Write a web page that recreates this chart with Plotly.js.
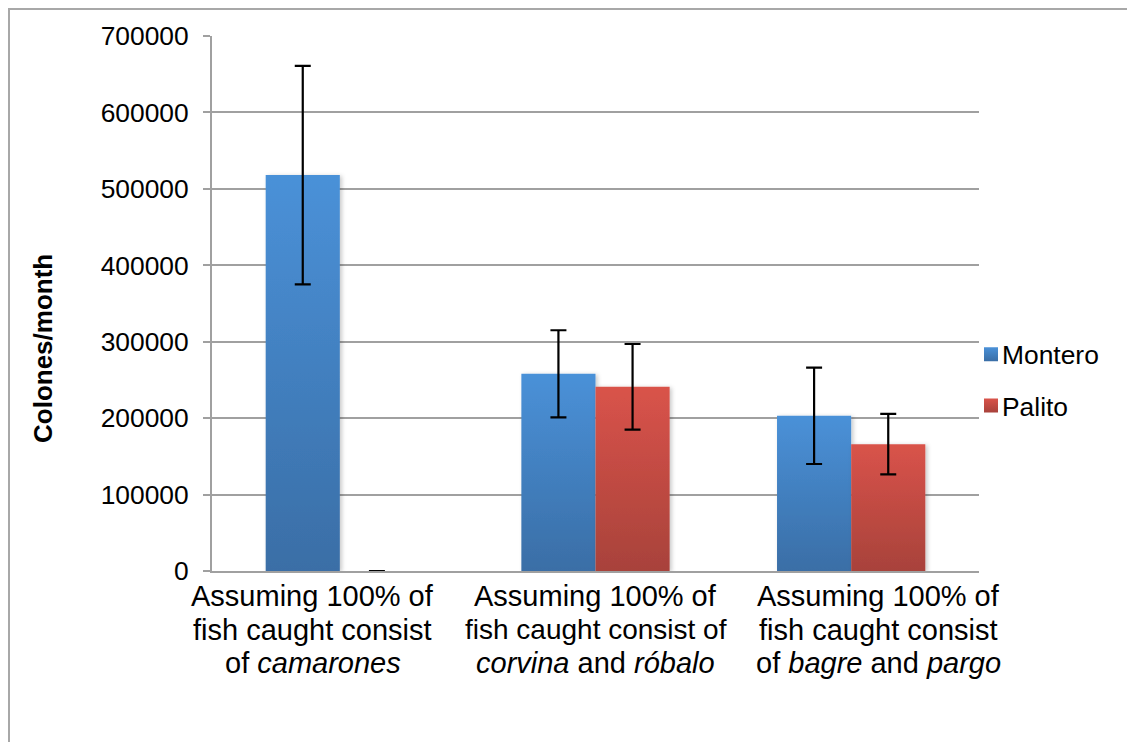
<!DOCTYPE html>
<html>
<head>
<meta charset="utf-8">
<script src="https://cdn.plot.ly/plotly-3.0.1.min.js"></script>
<style>
  html, body { margin: 0; padding: 0; background: #fff; }
  #wrap { position: relative; width: 1127px; height: 742px; overflow: hidden; }
  #chart { width: 1127px; height: 742px; }
  #frame { position: absolute; left: 8px; top: 8px; width: 1200px; height: 800px;
           border-left: 2px solid #a8a8a8; border-top: 2px solid #a8a8a8; pointer-events: none; }
</style>
</head>
<body>
<div id="wrap">
  <div id="chart"></div>
  <div id="frame"></div>
</div>
<script>
const categories = ["camarones", "corvina y róbalo", "bagre y pargo"];
const categoryLabelLines = [
  ["Assuming 100% of", "fish caught consist", "of <i>camarones</i>"],
  ["Assuming 100% of", "fish caught consist of", "<i>corvina</i> and <i>róbalo</i>"],
  ["Assuming 100% of", "fish caught consist", "of <i>bagre</i> and <i>pargo</i>"]
];
const monteroValues = [518000, 258000, 203000];
const monteroErrors = [143000, 57000, 63000];
const palitoValues = [0, 241000, 166000];
const palitoErrors = [0, 56000, 39500];
const yTickValues = [0, 100000, 200000, 300000, 400000, 500000, 600000, 700000];
const yTickLabels = ["0", "100000", "200000", "300000", "400000", "500000", "600000", "700000"];
const yAxisTitle = "<b>Colones/month</b>";

const font = "Liberation Sans, Arial, Helvetica, sans-serif";

const traces = [
  {
    type: "bar", name: "Montero", x: categories, y: monteroValues,
    marker: { color: "#4689d0" },
    error_y: { type: "data", array: monteroErrors, visible: true, color: "#000", thickness: 2.2, width: 8 },
    legendgroup: "a"
  },
  {
    type: "bar", name: "Palito", x: categories, y: palitoValues,
    marker: { color: "#d2504a" },
    error_y: { type: "data", array: palitoErrors, visible: true, color: "#000", thickness: 2.2, width: 8 },
    legendgroup: "b"
  }
];

// category label annotations, one per line (offsets are layout only)
const labelShift = [-27, 0, 27];
const lineTopOffset = 7;
const lineStep = 33.5;
const annotations = [];
categoryLabelLines.forEach(function (lines, ci) {
  lines.forEach(function (line, li) {
    const narrow = line.length > 20 && line.indexOf("<") < 0;
    annotations.push({
      xref: "x", yref: "paper", x: categories[ci], y: 0,
      xanchor: "center", yanchor: "top",
      xshift: labelShift[ci], yshift: -(lineTopOffset + li * lineStep + (narrow ? 0.6 : 0)),
      text: line, showarrow: false,
      font: { size: narrow ? 28 : 29, family: font, color: "#000" }
    });
  });
});
annotations.push({
  xref: "paper", yref: "paper", x: 0, y: (571 - 349) / 535,
  xanchor: "center", yanchor: "middle", xshift: -169,
  text: yAxisTitle, textangle: -90, showarrow: false,
  font: { size: 26, family: font, color: "#000" }
});

const layout = {
  width: 1127, height: 742,
  margin: { l: 212, r: 148, t: 36, b: 171 },
  paper_bgcolor: "#fff", plot_bgcolor: "#fff",
  font: { family: font, color: "#000", size: 26 },
  barmode: "group", bargap: 0.42, bargroupgap: 0,
  showlegend: true,
  legend: {
    x: (962 - 212) / 767, xanchor: "left", y: (571 - 380) / 535, yanchor: "middle",
    font: { size: 26.4, family: font }, traceorder: "grouped", tracegroupgap: 14,
    bgcolor: "rgba(0,0,0,0)"
  },
  xaxis: {
    type: "category", range: [-0.5, 2.5], autorange: false,
    showgrid: false, showline: true, linecolor: "#a0a0a0", linewidth: 2,
    ticks: "", showticklabels: false, automargin: false
  },
  yaxis: {
    range: [0, 700000], autorange: false, tickvals: yTickValues, ticktext: yTickLabels,
    showgrid: true, gridcolor: "#a0a0a0", gridwidth: 2,
    showline: true, linecolor: "#a0a0a0", linewidth: 2,
    ticks: "outside", ticklen: 7, tickcolor: "#a0a0a0", tickwidth: 2,
    ticklabelstandoff: 9,
    zeroline: false, tickfont: { size: 26.4, family: font }, automargin: false
  },
  annotations: annotations
};

Plotly.newPlot("chart", traces, layout, { staticPlot: true, displayModeBar: false }).then(function (gd) {
  const ns = "http://www.w3.org/2000/svg";
  const svg = gd.querySelector("svg.main-svg");
  let defs = svg.querySelector("defs");
  if (!defs) { defs = document.createElementNS(ns, "defs"); svg.insertBefore(defs, svg.firstChild); }
  function grad(id, top, bottom) {
    const g = document.createElementNS(ns, "linearGradient");
    g.setAttribute("id", id);
    g.setAttribute("x1", "0"); g.setAttribute("y1", "0");
    g.setAttribute("x2", "0"); g.setAttribute("y2", "1");
    [[0, top], [1, bottom]].forEach(function (s) {
      const st = document.createElementNS(ns, "stop");
      st.setAttribute("offset", s[0]);
      st.setAttribute("stop-color", s[1]);
      g.appendChild(st);
    });
    defs.appendChild(g);
  }
  grad("gBlue", "#4a91d8", "#3a6ea6");
  grad("gRed", "#d9534a", "#a8423b");
  const f = document.createElementNS(ns, "filter");
  f.setAttribute("id", "shadow");
  f.setAttribute("x", "-20%"); f.setAttribute("y", "-5%");
  f.setAttribute("width", "140%"); f.setAttribute("height", "115%");
  const ds = document.createElementNS(ns, "feDropShadow");
  ds.setAttribute("dx", "2"); ds.setAttribute("dy", "1");
  ds.setAttribute("stdDeviation", "2"); ds.setAttribute("flood-color", "#000");
  ds.setAttribute("flood-opacity", "0.22");
  f.appendChild(ds); defs.appendChild(f);

  gd.querySelectorAll(".barlayer .trace").forEach(function (tg, i) {
    const id = i === 0 ? "gBlue" : "gRed";
    tg.querySelectorAll(".point path").forEach(function (p) {
      p.style.fill = "url(#" + id + ")";
      p.setAttribute("filter", "url(#shadow)");
    });
  });
  gd.querySelectorAll(".legend .traces").forEach(function (lt, i) {
    const id = i === 0 ? "gBlue" : "gRed";
    lt.querySelectorAll(".legendpoints path").forEach(function (p) {
      p.setAttribute("d", "M7,7H-7V-7H7Z");
      p.setAttribute("transform", (p.getAttribute("transform") || "") + " translate(9,0)");
      p.style.fill = "url(#" + id + ")";
      p.style.stroke = "none";
    });
  });
});
</script>
</body>
</html>
